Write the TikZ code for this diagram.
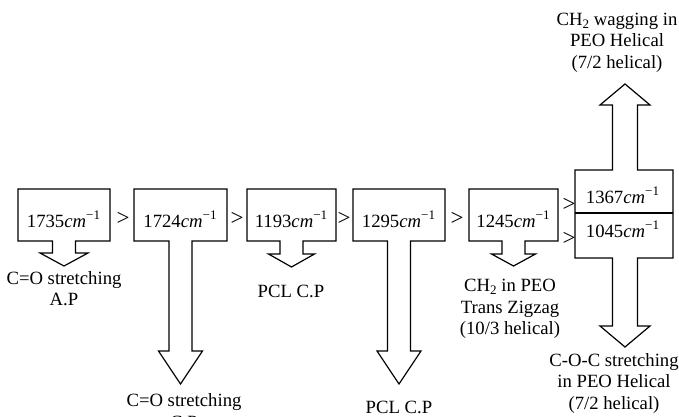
\documentclass[tikz,border=0pt]{standalone}
\usepackage{fontspec}
\setmainfont{Liberation Serif}
\newcommand\lowsub[1]{\raisebox{-0.35ex}{\fontsize{6.5}{7}\selectfont #1}}

\begin{document}
\begin{tikzpicture}[x=0.5pt,y=-0.5pt,
  font=\fontsize{9.35}{10.75}\selectfont,
  outline/.style={draw,line width=0.6pt,line join=miter},
  num/.style={anchor=base,inner sep=0pt},
  lbl/.style={align=center,inner sep=0pt},
  gt/.style={inner sep=0pt,font=\fontsize{11.5}{12}\selectfont}]
  \useasboundingbox (0,0) rectangle (679,417);
  % boxes with a block arrow pointing down
  \foreach \i/\L/\R/\hw/\hy/\ty/\val in {1/18/110/24/253/266/1735, 2/134/227/22/351/384/1724,
      3/247/336/23/254/267/1193, 4/353/445/22/351/384/1295, 5/469/558/22/254/266/1245}{
    \pgfmathsetmacro\C{(\L+\R)/2}
    \draw[outline] (\L,189) -- (\R,189) -- (\R,241) -- (\C+11.5,241) -- (\C+11.5,\hy)
      -- (\C+\hw,\hy) -- (\C,\ty) -- (\C-\hw,\hy) -- (\C-11.5,\hy) -- (\C-11.5,241)
      -- (\L,241) -- cycle;
    \node[num] (v\i) at (\C,227) {\val\textit{cm}\textsuperscript{−1}};
  }
  % split box with arrows up and down
  \draw[outline] (575,170) -- (612.5,170) -- (612.5,105) -- (600,105) -- (625,84)
    -- (650,105) -- (637.5,105) -- (637.5,170) -- (673,170) -- (673,258)
    -- (637.5,258) -- (637.5,326) -- (650,326) -- (625,347) -- (600,326)
    -- (612.5,326) -- (612.5,258) -- (575,258) -- cycle;
  \draw[outline] (575,213) -- (673,213);
  \node[num] (v6) at (623,203) {1367\textit{cm}\textsuperscript{−1}};
  \node[num] (v7) at (623,237) {1045\textit{cm}\textsuperscript{−1}};
  % order signs
  \foreach \x/\y [count=\k] in {123/219, 237/219, 344/219, 457/219, 569/205, 569/239}
    \node[gt] (g\k) at (\x,\y) {>};
  % labels
  \node[lbl] (l1) at (64,288.5) {C=O stretching\\A.P};
  \node[lbl] (l2) at (184,411) {C=O stretching\\C.P};
  \node[lbl] (l3) at (291,291) {PCL C.P};
  \node[lbl] (l4) at (399,407) {PCL C.P};
  \node[lbl] (l5) at (510,309) {CH\lowsub{2} in PEO\\Trans Zigzag\\(10/3 helical)};
  \node[lbl] (l6) at (617,42.5) {CH\lowsub{2} wagging in\\PEO Helical\\(7/2 helical)};
  \node[lbl] (l7) at (614,383) {C-O-C stretching\\in PEO Helical\\(7/2 helical)};
\end{tikzpicture}
\end{document}
